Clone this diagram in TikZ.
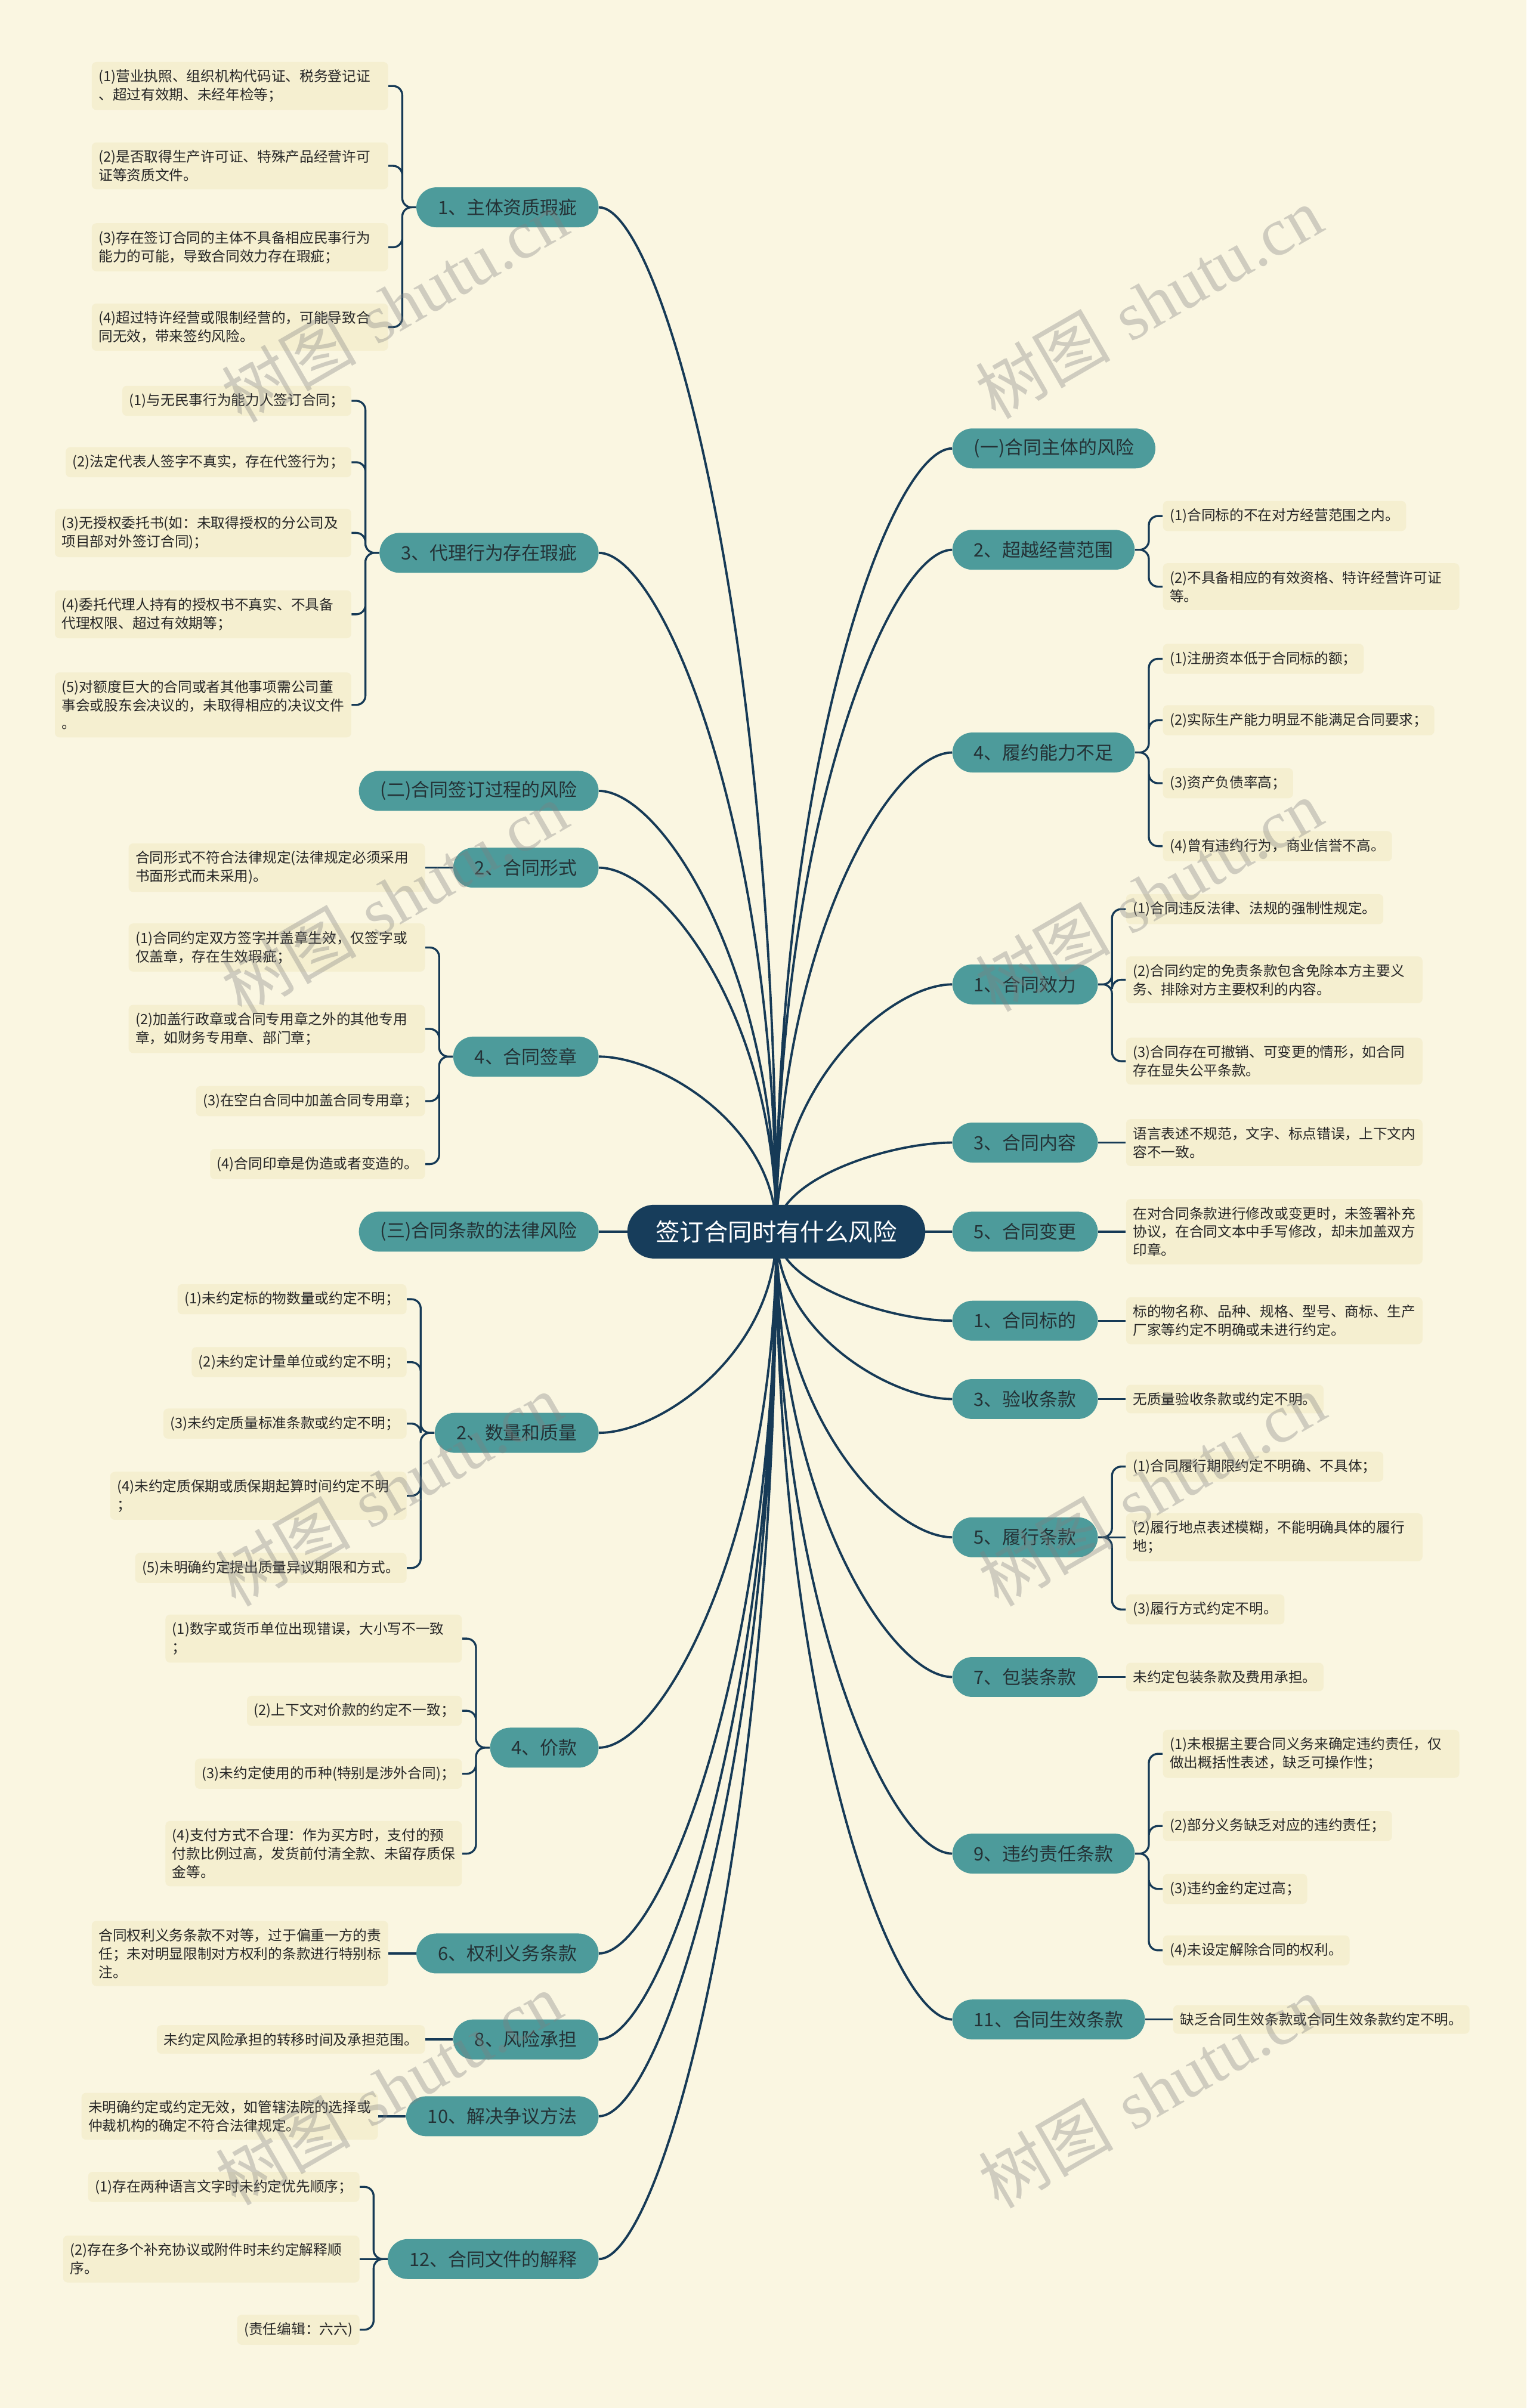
\documentclass[tikz,border=0pt]{standalone}
\usepackage{fontspec}
\usepackage{tikz}
\usetikzlibrary{calc,backgrounds}
\newfontfamily\cjk{Noto Sans CJK SC}
\newfontfamily\wmserif{Liberation Serif}
\definecolor{Paper}{RGB}{250,246,225}
\definecolor{LeafFill}{RGB}{245,239,208}
\definecolor{TopicTeal}{RGB}{77,155,155}
\definecolor{TopicText}{RGB}{36,50,54}
\definecolor{RootNavy}{RGB}{23,61,91}
\definecolor{WireBlue}{RGB}{22,58,86}
\tikzset{
  rootbox/.style={fill=RootNavy,rounded corners=17.5pt,minimum height=35pt,
    inner xsep=18.5pt,text=white,font=\cjk\fontsize{15.7}{18}\selectfont},
  topicbox/.style={fill=TopicTeal,rounded corners=13pt,minimum height=26pt,
    inner xsep=14pt,inner ysep=3pt,text=TopicText,
    font=\cjk\fontsize{12}{14}\selectfont},
  leafbox/.style={fill=LeafFill,rounded corners=3pt,inner xsep=4.5pt,
    inner ysep=5pt,align=left,text=black!85,
    font=\cjk\fontsize{9.2}{12}\selectfont},
  leafwide/.style={leafbox,text width=184pt},
  wire/.style={draw=WireBlue,line width=1.3pt},
  trunk/.style={wire,line width=1.5pt,
    to path={.. controls ($(\tikztostart)!0.6!(\tikztostart|-\tikztotarget)$)
      and ($(\tikztotarget)!0.35!(\tikztostart|-\tikztotarget)$) .. (\tikztotarget)}},
  twigL/.style={wire,rounded corners=6pt,to path={-- ++(-9,0) |- (\tikztotarget)}},
  twigR/.style={wire,rounded corners=6pt,to path={-- ++(9,0) |- (\tikztotarget)}},
  wmark/.style={rotate=30,text=black!50,opacity=0.35,
    font=\fontsize{44}{44}\selectfont},
}
\begin{document}
\begin{tikzpicture}[x=1pt,y=-1pt]
  \useasboundingbox (0,0) rectangle (994,1568);
  \begin{scope}[on background layer]
    \fill[Paper] (0,0) rectangle (994,1568);
  \end{scope}

  \node[rootbox] (root) at (505.5,802) {签订合同时有什么风险};

  \node[topicbox,anchor=east] (qual) at (390,135) {1、主体资质瑕疵};
  \node[topicbox,anchor=east] (agent) at (390,360) {3、代理行为存在瑕疵};
  \node[topicbox,anchor=east] (stage2) at (390,515) {(二)合同签订过程的风险};
  \node[topicbox,anchor=east] (form) at (390,565) {2、合同形式};
  \node[topicbox,anchor=east] (seal) at (390,688) {4、合同签章};
  \node[topicbox,anchor=east] (stage3) at (390,802) {(三)合同条款的法律风险};
  \node[topicbox,anchor=east] (qty) at (390,933) {2、数量和质量};
  \node[topicbox,anchor=east] (price) at (390,1138) {4、价款};
  \node[topicbox,anchor=east] (rights) at (390,1272) {6、权利义务条款};
  \node[topicbox,anchor=east] (riskb) at (390,1328) {8、风险承担};
  \node[topicbox,anchor=east] (dispute) at (390,1378) {10、解决争议方法};
  \node[topicbox,anchor=east] (interp) at (390,1471) {12、合同文件的解释};

  \node[topicbox,anchor=west] (stage1) at (620,292) {(一)合同主体的风险};
  \node[topicbox,anchor=west] (scope) at (620,358) {2、超越经营范围};
  \node[topicbox,anchor=west] (perf) at (620,490) {4、履约能力不足};
  \node[topicbox,anchor=west] (valid) at (620,641) {1、合同效力};
  \node[topicbox,anchor=west] (content) at (620,744) {3、合同内容};
  \node[topicbox,anchor=west] (change) at (620,802) {5、合同变更};
  \node[topicbox,anchor=west] (subject) at (620,860) {1、合同标的};
  \node[topicbox,anchor=west] (accept) at (620,911) {3、验收条款};
  \node[topicbox,anchor=west] (exec) at (620,1001) {5、履行条款};
  \node[topicbox,anchor=west] (pack) at (620,1092) {7、包装条款};
  \node[topicbox,anchor=west] (breach) at (620,1207) {9、违约责任条款};
  \node[topicbox,anchor=west] (effect) at (620,1315) {11、合同生效条款};

  \node[leafwide,anchor=east] (qual1) at ($(qual.west)+(-18,-79)$) {(1)营业执照、组织机构代码证、税务登记证\\、超过有效期、未经年检等；};
  \node[leafwide,anchor=east] (qual2) at ($(qual.west)+(-18,-27)$) {(2)是否取得生产许可证、特殊产品经营许可\\证等资质文件。};
  \node[leafwide,anchor=east] (qual3) at ($(qual.west)+(-18,26)$) {(3)存在签订合同的主体不具备相应民事行为\\能力的可能，导致合同效力存在瑕疵；};
  \node[leafwide,anchor=east] (qual4) at ($(qual.west)+(-18,78)$) {(4)超过特许经营或限制经营的，可能导致合\\同无效，带来签约风险。};

  \node[leafbox,anchor=east] (agent1) at ($(agent.west)+(-18,-99)$) {(1)与无民事行为能力人签订合同；};
  \node[leafbox,anchor=east] (agent2) at ($(agent.west)+(-18,-59)$) {(2)法定代表人签字不真实，存在代签行为；};
  \node[leafwide,anchor=east] (agent3) at ($(agent.west)+(-18,-13)$) {(3)无授权委托书(如：未取得授权的分公司及\\项目部对外签订合同)；};
  \node[leafwide,anchor=east] (agent4) at ($(agent.west)+(-18,40)$) {(4)委托代理人持有的授权书不真实、不具备\\代理权限、超过有效期等；};
  \node[leafwide,anchor=east] (agent5) at ($(agent.west)+(-18,99)$) {(5)对额度巨大的合同或者其他事项需公司董\\事会或股东会决议的，未取得相应的决议文件\\。};

  \node[leafwide,anchor=east] (form1) at ($(form.west)+(-18,0)$) {合同形式不符合法律规定(法律规定必须采用\\书面形式而未采用)。};

  \node[leafwide,anchor=east] (seal1) at ($(seal.west)+(-18,-71)$) {(1)合同约定双方签字并盖章生效，仅签字或\\仅盖章，存在生效瑕疵；};
  \node[leafwide,anchor=east] (seal2) at ($(seal.west)+(-18,-18)$) {(2)加盖行政章或合同专用章之外的其他专用\\章，如财务专用章、部门章；};
  \node[leafbox,anchor=east] (seal3) at ($(seal.west)+(-18,29)$) {(3)在空白合同中加盖合同专用章；};
  \node[leafbox,anchor=east] (seal4) at ($(seal.west)+(-18,70)$) {(4)合同印章是伪造或者变造的。};

  \node[leafbox,anchor=east] (qty1) at ($(qty.west)+(-18,-87)$) {(1)未约定标的物数量或约定不明；};
  \node[leafbox,anchor=east] (qty2) at ($(qty.west)+(-18,-46)$) {(2)未约定计量单位或约定不明；};
  \node[leafbox,anchor=east] (qty3) at ($(qty.west)+(-18,-6)$) {(3)未约定质量标准条款或约定不明；};
  \node[leafwide,anchor=east] (qty4) at ($(qty.west)+(-18,41)$) {(4)未约定质保期或质保期起算时间约定不明\\；};
  \node[leafbox,anchor=east] (qty5) at ($(qty.west)+(-18,88)$) {(5)未明确约定提出质量异议期限和方式。};

  \node[leafwide,anchor=east] (price1) at ($(price.west)+(-18,-71)$) {(1)数字或货币单位出现错误，大小写不一致\\；};
  \node[leafbox,anchor=east] (price2) at ($(price.west)+(-18,-24)$) {(2)上下文对价款的约定不一致；};
  \node[leafbox,anchor=east] (price3) at ($(price.west)+(-18,17)$) {(3)未约定使用的币种(特别是涉外合同)；};
  \node[leafwide,anchor=east] (price4) at ($(price.west)+(-18,69)$) {(4)支付方式不合理：作为买方时，支付的预\\付款比例过高，发货前付清全款、未留存质保\\金等。};

  \node[leafwide,anchor=east] (rights1) at ($(rights.west)+(-18,0)$) {合同权利义务条款不对等，过于偏重一方的责\\任；未对明显限制对方权利的条款进行特别标\\注。};
  \node[leafbox,anchor=east] (riskb1) at ($(riskb.west)+(-18,0)$) {未约定风险承担的转移时间及承担范围。};
  \node[leafwide,anchor=east] (dispute1) at ($(dispute.west)+(-18,0)$) {未明确约定或约定无效，如管辖法院的选择或\\仲裁机构的确定不符合法律规定。};

  \node[leafbox,anchor=east] (interp1) at ($(interp.west)+(-18,-47)$) {(1)存在两种语言文字时未约定优先顺序；};
  \node[leafwide,anchor=east] (interp2) at ($(interp.west)+(-18,0)$) {(2)存在多个补充协议或附件时未约定解释顺\\序。};
  \node[leafbox,anchor=east] (interp3) at ($(interp.west)+(-18,46)$) {(责任编辑：六六)};

  \node[leafbox,anchor=west] (scope1) at ($(scope.east)+(18,-22)$) {(1)合同标的不在对方经营范围之内。};
  \node[leafwide,anchor=west] (scope2) at ($(scope.east)+(18,24)$) {(2)不具备相应的有效资格、特许经营许可证\\等。};

  \node[leafbox,anchor=west] (perf1) at ($(perf.east)+(18,-61)$) {(1)注册资本低于合同标的额；};
  \node[leafbox,anchor=west] (perf2) at ($(perf.east)+(18,-21)$) {(2)实际生产能力明显不能满足合同要求；};
  \node[leafbox,anchor=west] (perf3) at ($(perf.east)+(18,20)$) {(3)资产负债率高；};
  \node[leafbox,anchor=west] (perf4) at ($(perf.east)+(18,61)$) {(4)曾有违约行为，商业信誉不高。};

  \node[leafbox,anchor=west] (valid1) at ($(valid.east)+(18,-49)$) {(1)合同违反法律、法规的强制性规定。};
  \node[leafwide,anchor=west] (valid2) at ($(valid.east)+(18,-3)$) {(2)合同约定的免责条款包含免除本方主要义\\务、排除对方主要权利的内容。};
  \node[leafwide,anchor=west] (valid3) at ($(valid.east)+(18,50)$) {(3)合同存在可撤销、可变更的情形，如合同\\存在显失公平条款。};

  \node[leafwide,anchor=west] (content1) at ($(content.east)+(18,0)$) {语言表述不规范，文字、标点错误，上下文内\\容不一致。};
  \node[leafwide,anchor=west] (change1) at ($(change.east)+(18,0)$) {在对合同条款进行修改或变更时，未签署补充\\协议，在合同文本中手写修改，却未加盖双方\\印章。};
  \node[leafwide,anchor=west] (subject1) at ($(subject.east)+(18,0)$) {标的物名称、品种、规格、型号、商标、生产\\厂家等约定不明确或未进行约定。};
  \node[leafbox,anchor=west] (accept1) at ($(accept.east)+(18,0)$) {无质量验收条款或约定不明。};

  \node[leafbox,anchor=west] (exec1) at ($(exec.east)+(18,-46)$) {(1)合同履行期限约定不明确、不具体；};
  \node[leafwide,anchor=west] (exec2) at ($(exec.east)+(18,0)$) {(2)履行地点表述模糊，不能明确具体的履行\\地；};
  \node[leafbox,anchor=west] (exec3) at ($(exec.east)+(18,47)$) {(3)履行方式约定不明。};

  \node[leafbox,anchor=west] (pack1) at ($(pack.east)+(18,0)$) {未约定包装条款及费用承担。};

  \node[leafwide,anchor=west] (breach1) at ($(breach.east)+(18,-65)$) {(1)未根据主要合同义务来确定违约责任，仅\\做出概括性表述，缺乏可操作性；};
  \node[leafbox,anchor=west] (breach2) at ($(breach.east)+(18,-18)$) {(2)部分义务缺乏对应的违约责任；};
  \node[leafbox,anchor=west] (breach3) at ($(breach.east)+(18,23)$) {(3)违约金约定过高；};
  \node[leafbox,anchor=west] (breach4) at ($(breach.east)+(18,63)$) {(4)未设定解除合同的权利。};

  \node[leafbox,anchor=west] (effect1) at ($(effect.east)+(18,0)$) {缺乏合同生效条款或合同生效条款约定不明。};

  \begin{scope}[on background layer]
    \draw[trunk] (root.center) to (qual.east) (root.center) to (agent.east)
      (root.center) to (stage2.east) (root.center) to (form.east)
      (root.center) to (seal.east) (root.center) to (stage3.east)
      (root.center) to (qty.east) (root.center) to (price.east)
      (root.center) to (rights.east) (root.center) to (riskb.east)
      (root.center) to (dispute.east) (root.center) to (interp.east);
    \draw[trunk] (root.center) to (stage1.west) (root.center) to (scope.west)
      (root.center) to (perf.west) (root.center) to (valid.west)
      (root.center) to (content.west) (root.center) to (change.west)
      (root.center) to (subject.west) (root.center) to (accept.west)
      (root.center) to (exec.west) (root.center) to (pack.west)
      (root.center) to (breach.west) (root.center) to (effect.west);

    \draw[twigL] (qual.west) to (qual1.east) (qual.west) to (qual2.east)
      (qual.west) to (qual3.east) (qual.west) to (qual4.east);
    \draw[twigL] (agent.west) to (agent1.east) (agent.west) to (agent2.east)
      (agent.west) to (agent3.east) (agent.west) to (agent4.east)
      (agent.west) to (agent5.east);
    \draw[twigL] (seal.west) to (seal1.east) (seal.west) to (seal2.east)
      (seal.west) to (seal3.east) (seal.west) to (seal4.east);
    \draw[twigL] (qty.west) to (qty1.east) (qty.west) to (qty2.east)
      (qty.west) to (qty3.east) (qty.west) to (qty4.east) (qty.west) to (qty5.east);
    \draw[twigL] (price.west) to (price1.east) (price.west) to (price2.east)
      (price.west) to (price3.east) (price.west) to (price4.east);
    \draw[twigL] (interp.west) to (interp1.east) (interp.west) to (interp3.east);
    \draw[wire] (interp.west) -- (interp2.east) (form.west) -- (form1.east)
      (rights.west) -- (rights1.east) (riskb.west) -- (riskb1.east)
      (dispute.west) -- (dispute1.east);

    \draw[twigR] (scope.east) to (scope1.west) (scope.east) to (scope2.west);
    \draw[twigR] (perf.east) to (perf1.west) (perf.east) to (perf2.west)
      (perf.east) to (perf3.west) (perf.east) to (perf4.west);
    \draw[twigR] (valid.east) to (valid1.west) (valid.east) to (valid2.west)
      (valid.east) to (valid3.west);
    \draw[twigR] (exec.east) to (exec1.west) (exec.east) to (exec3.west);
    \draw[twigR] (breach.east) to (breach1.west) (breach.east) to (breach2.west)
      (breach.east) to (breach3.west) (breach.east) to (breach4.west);
    \draw[wire] (exec.east) -- (exec2.west) (content.east) -- (content1.west)
      (change.east) -- (change1.west) (subject.east) -- (subject1.west)
      (accept.east) -- (accept1.west) (pack.east) -- (pack1.west)
      (effect.east) -- (effect1.west);
  \end{scope}

  \foreach \wx/\wy [count=\k] in {257/199,748/197,257/585,748/583,
      253/970,750/970,253/1360,750/1362}
    \node[wmark] (wm\k) at (\wx,\wy) {{\cjk 树图} {\wmserif shutu.cn}};
\end{tikzpicture}
\end{document}
